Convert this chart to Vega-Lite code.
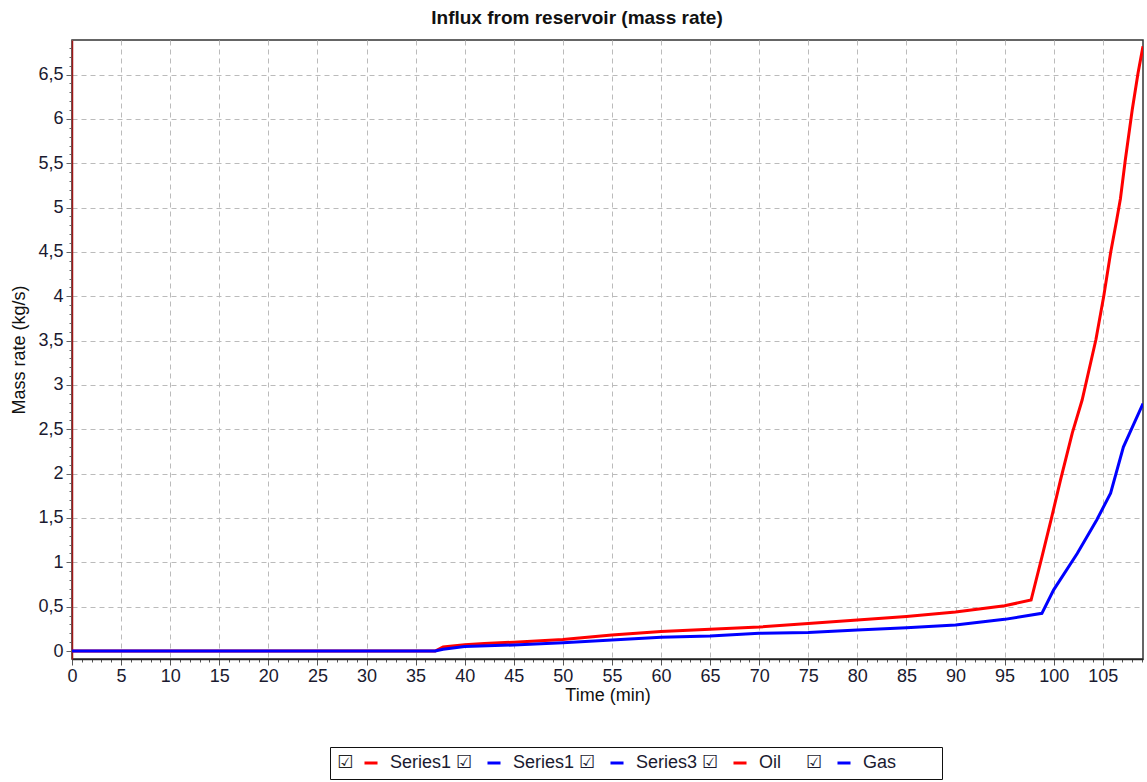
{
  "$schema": "https://vega.github.io/schema/vega-lite/v6.json",
  "autosize": "none",
  "width": 1071,
  "height": 619,
  "padding": {"left": 72, "top": 40, "right": 4, "bottom": 123},
  "background": "white",
  "config": {
    "font": "Liberation Sans",
    "view": {"stroke": "#333333", "strokeWidth": 1.5}
  },
  "title": {
    "text": "Influx from reservoir (mass rate)",
    "font": "Liberation Sans",
    "fontSize": 19,
    "fontWeight": "bold",
    "color": "#111111",
    "anchor": "middle",
    "frame": "bounds",
    "offset": 11
  },
  "data": {
    "values": [
      {"t": 0, "v": 0, "series": "Oil"},
      {"t": 37, "v": 0, "series": "Oil"},
      {"t": 37.8, "v": 0.045, "series": "Oil"},
      {"t": 40, "v": 0.07, "series": "Oil"},
      {"t": 42, "v": 0.085, "series": "Oil"},
      {"t": 45, "v": 0.1, "series": "Oil"},
      {"t": 50, "v": 0.13, "series": "Oil"},
      {"t": 55, "v": 0.18, "series": "Oil"},
      {"t": 60, "v": 0.22, "series": "Oil"},
      {"t": 65, "v": 0.245, "series": "Oil"},
      {"t": 70, "v": 0.27, "series": "Oil"},
      {"t": 75, "v": 0.31, "series": "Oil"},
      {"t": 80, "v": 0.35, "series": "Oil"},
      {"t": 85, "v": 0.39, "series": "Oil"},
      {"t": 90, "v": 0.44, "series": "Oil"},
      {"t": 95, "v": 0.51, "series": "Oil"},
      {"t": 97.7, "v": 0.575, "series": "Oil"},
      {"t": 98.8, "v": 1.06, "series": "Oil"},
      {"t": 99.8, "v": 1.51, "series": "Oil"},
      {"t": 100.7, "v": 1.93, "series": "Oil"},
      {"t": 101.9, "v": 2.46, "series": "Oil"},
      {"t": 102.9, "v": 2.83, "series": "Oil"},
      {"t": 104.3, "v": 3.51, "series": "Oil"},
      {"t": 105.1, "v": 4.0, "series": "Oil"},
      {"t": 105.8, "v": 4.49, "series": "Oil"},
      {"t": 106.4, "v": 4.85, "series": "Oil"},
      {"t": 106.8, "v": 5.1, "series": "Oil"},
      {"t": 107.3, "v": 5.54, "series": "Oil"},
      {"t": 108.0, "v": 6.1, "series": "Oil"},
      {"t": 108.6, "v": 6.52, "series": "Oil"},
      {"t": 109.1, "v": 6.82, "series": "Oil"},
      {"t": 0, "v": 0, "series": "Gas"},
      {"t": 37, "v": 0, "series": "Gas"},
      {"t": 37.8, "v": 0.02, "series": "Gas"},
      {"t": 40, "v": 0.05, "series": "Gas"},
      {"t": 45, "v": 0.068, "series": "Gas"},
      {"t": 50, "v": 0.094, "series": "Gas"},
      {"t": 55, "v": 0.124, "series": "Gas"},
      {"t": 60, "v": 0.155, "series": "Gas"},
      {"t": 65, "v": 0.17, "series": "Gas"},
      {"t": 70, "v": 0.2, "series": "Gas"},
      {"t": 75, "v": 0.21, "series": "Gas"},
      {"t": 80, "v": 0.237, "series": "Gas"},
      {"t": 85, "v": 0.263, "series": "Gas"},
      {"t": 90, "v": 0.293, "series": "Gas"},
      {"t": 95, "v": 0.357, "series": "Gas"},
      {"t": 98.8, "v": 0.425, "series": "Gas"},
      {"t": 100, "v": 0.69, "series": "Gas"},
      {"t": 102.4, "v": 1.1, "series": "Gas"},
      {"t": 104.4, "v": 1.48, "series": "Gas"},
      {"t": 105.8, "v": 1.78, "series": "Gas"},
      {"t": 107.1, "v": 2.3, "series": "Gas"},
      {"t": 108.2, "v": 2.57, "series": "Gas"},
      {"t": 109.1, "v": 2.79, "series": "Gas"}
    ]
  },
  "mark": {"type": "line", "strokeWidth": 3, "clip": true, "interpolate": "linear"},
  "encoding": {
    "x": {
      "field": "t",
      "type": "quantitative",
      "scale": {"domain": [0, 109.1], "nice": false, "zero": false},
      "axis": {
        "title": "Time (min)",
        "titleFont": "Liberation Sans",
        "titleFontSize": 18,
        "titleFontWeight": "normal",
        "titleColor": "#111111",
        "titlePadding": 1,
        "values": [0,1,2,3,4,5,6,7,8,9,10,11,12,13,14,15,16,17,18,19,20,21,22,23,24,25,26,27,28,29,30,31,32,33,34,35,36,37,38,39,40,41,42,43,44,45,46,47,48,49,50,51,52,53,54,55,56,57,58,59,60,61,62,63,64,65,66,67,68,69,70,71,72,73,74,75,76,77,78,79,80,81,82,83,84,85,86,87,88,89,90,91,92,93,94,95,96,97,98,99,100,101,102,103,104,105,106,107,108,109],
        "labelExpr": "datum.value % 5 === 0 ? datum.value : ''",
        "labelOverlap": false,
        "labelFont": "Liberation Sans",
        "labelFontSize": 18,
        "labelColor": "#1a1a30",
        "labelPadding": 2,
        "labelFlush": false,
        "domainColor": "#222222",
        "domainWidth": 1.5,
        "tickColor": "#555555",
        "tickSize": {"condition": {"test": "datum.value % 5 === 0", "value": 6}, "value": 3},
        "grid": true,
        "gridColor": "#bbbbbb",
        "gridDash": [5, 4],
        "gridWidth": 1,
        "gridOpacity": {"condition": {"test": "datum.value % 5 === 0", "value": 1}, "value": 0}
      }
    },
    "y": {
      "field": "v",
      "type": "quantitative",
      "scale": {"domain": [-0.09, 6.89], "nice": false, "zero": false},
      "axis": {
        "title": "Mass rate (kg/s)",
        "titleFont": "Liberation Sans",
        "titleFontSize": 18,
        "titleFontWeight": "normal",
        "titleColor": "#111111",
        "titlePadding": 9,
        "values": [0,0.1,0.2,0.3,0.4,0.5,0.6,0.7,0.8,0.9,1,1.1,1.2,1.3,1.4,1.5,1.6,1.7,1.8,1.9,2,2.1,2.2,2.3,2.4,2.5,2.6,2.7,2.8,2.9,3,3.1,3.2,3.3,3.4,3.5,3.6,3.7,3.8,3.9,4,4.1,4.2,4.3,4.4,4.5,4.6,4.7,4.8,4.9,5,5.1,5.2,5.3,5.4,5.5,5.6,5.7,5.8,5.9,6,6.1,6.2,6.3,6.4,6.5,6.6,6.7,6.8],
        "labelExpr": "abs(datum.value * 2 - round(datum.value * 2)) < 0.001 ? replace(toString(datum.value), '.', ',') : ''",
        "labelOverlap": false,
        "labelFont": "Liberation Sans",
        "labelFontSize": 18,
        "labelColor": "#1a1a30",
        "labelPadding": 3,
        "labelFlush": false,
        "domainColor": "#a01818",
        "domainWidth": 1.5,
        "tickColor": "#666666",
        "tickSize": {"condition": {"test": "abs(datum.value * 2 - round(datum.value * 2)) < 0.001", "value": 6}, "value": 3},
        "grid": true,
        "gridColor": "#bbbbbb",
        "gridDash": [5, 4],
        "gridWidth": 1,
        "gridOpacity": {"condition": {"test": "abs(datum.value * 2 - round(datum.value * 2)) < 0.001 && datum.value > 0.01", "value": 1}, "value": 0}
      }
    },
    "color": {
      "field": "series",
      "type": "nominal",
      "scale": {
        "domain": ["Series1", "Series1 ", "Series3", "Oil", "Gas"],
        "range": ["#ff0000", "#0000ff", "#0000ff", "#ff0000", "#0000ff"]
      },
      "legend": {
        "title": "☑",
        "titleOrient": "left",
        "titleFont": "DejaVu Sans",
        "titleFontSize": 18,
        "titleFontWeight": "normal",
        "titleColor": "#222222",
        "titlePadding": 8,
        "labelExpr": "datum.label === 'Gas' ? 'Gas\u00a0\u00a0\u00a0\u00a0\u00a0\u2800' : (datum.label === 'Oil' ? 'Oil\u00a0\u00a0\u00a0\u00a0\u00a0☑' : trim(datum.label) + ' ☑')",
        "orient": "none",
        "legendX": 258,
        "legendY": 707,
        "direction": "horizontal",
        "columns": 5,
        "strokeColor": "#111111",
        "fillColor": "white",
        "padding": 7,
        "symbolType": "stroke",
        "symbolStrokeWidth": 3,
        "symbolSize": 170,
        "labelFont": "Liberation Sans",
        "labelFontSize": 18,
        "labelColor": "#1a1a30",
        "labelOffset": 10,
        "labelLimit": 300,
        "columnPadding": 8
      }
    }
  }
}
